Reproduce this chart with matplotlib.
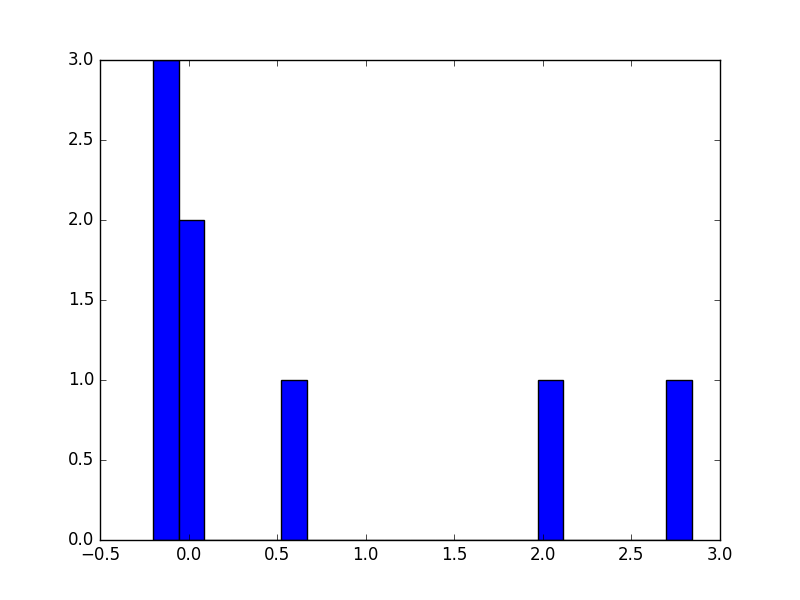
import matplotlib
matplotlib.use('Agg')
import matplotlib.pyplot as plt
import numpy as np

plt.style.use('classic')

# sample values (8 points, 21 bins)
values = [-0.2, -0.16, -0.1, 0.0, 0.05, 0.6, 2.05, 2.84]
n_bins = 21

fig = plt.figure(figsize=(8, 6), dpi=100)
plt.hist(values, bins=n_bins)
plt.xlim(-0.5, 3.0)
plt.ylim(0, 3.0)

plt.savefig('out.png', dpi=100)
